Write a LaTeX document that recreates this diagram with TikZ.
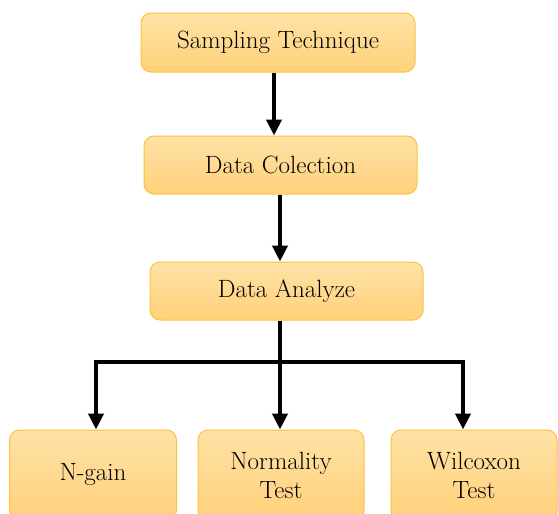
\documentclass[tikz,border=0pt]{standalone}
\usetikzlibrary{arrows.meta}
\definecolor{boxfill}{HTML}{FFD88C}
\definecolor{boxtop}{HTML}{FFE2A6}
\definecolor{boxbot}{HTML}{FFD17A}
\definecolor{boxline}{HTML}{F9C33E}
\tikzset{
  stepbox/.style={draw=boxline, line width=1pt, rounded corners=10pt,
    top color=boxtop, bottom color=boxbot, align=center,
    font=\fontsize{25}{29}\selectfont, inner sep=0pt},
  arr/.style={line width=4pt, -{Triangle[length=16pt,width=15pt]}},
  ln/.style={line width=4pt}
}
\begin{document}
\begin{tikzpicture}[x=1pt,y=-1pt]
\useasboundingbox (0,0) rectangle (558,514);
\clip (0,0) rectangle (558,514);
\node[stepbox, minimum width=274pt, minimum height=59pt] (b1) at (278,42.5) {Sampling Technique};
\node[stepbox, minimum width=273pt, minimum height=58pt] (b2) at (280.5,165) {Data Colection};
\node[stepbox, minimum width=273pt, minimum height=58pt] (b3) at (286.5,291) {Data Analyze};
\node[stepbox, minimum width=167pt, minimum height=90pt] (b4) at (93,475) {N-gain};
\node[stepbox, minimum width=166pt, minimum height=90pt] (b5) at (281,475) {Normality\\Test};
\node[stepbox, minimum width=166pt, minimum height=90pt] (b6) at (474,475) {Wilcoxon\\Test};
\coordinate (x1) at (274,0);
\coordinate (x2) at (280,0);
\coordinate (hy) at (0,362);
\coordinate (xl) at (96,0);
\coordinate (xr) at (463,0);
\draw[arr] (b1.south -| x1) -- (b2.north -| x1);
\draw[arr] (b2.south -| x2) -- (b3.north -| x2);
\draw[arr] (b3.south -| x2) -- (b5.north -| x2);
\draw[ln, line cap=rect] (hy -| xl) -- (hy -| xr);
\draw[arr] (hy -| xl) -- (b4.north -| xl);
\draw[arr] (hy -| xr) -- (b6.north -| xr);
\end{tikzpicture}
\end{document}
